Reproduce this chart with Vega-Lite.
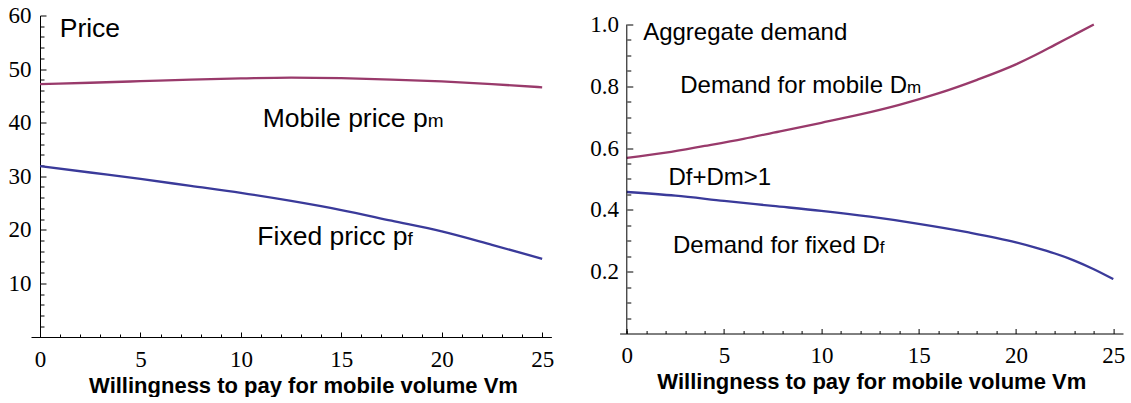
{
  "$schema": "https://vega.github.io/schema/vega-lite/v6.json",
  "background": "white",
  "padding": {"left": 8, "top": 4.5, "right": 0, "bottom": 0},
  "bounds": "flush",
  "spacing": 67.6,
  "datasets": {
    "price": [
      {"v": 0, "series": "Mobile price", "price": 47.2},
      {"v": 2.5, "series": "Mobile price", "price": 47.45},
      {"v": 5, "series": "Mobile price", "price": 47.75},
      {"v": 7.5, "series": "Mobile price", "price": 48.05},
      {"v": 10, "series": "Mobile price", "price": 48.25},
      {"v": 12.5, "series": "Mobile price", "price": 48.4},
      {"v": 15, "series": "Mobile price", "price": 48.3},
      {"v": 17.5, "series": "Mobile price", "price": 48.05},
      {"v": 20, "series": "Mobile price", "price": 47.7},
      {"v": 22.5, "series": "Mobile price", "price": 47.2},
      {"v": 25, "series": "Mobile price", "price": 46.6},
      {"v": 0, "series": "Fixed price", "price": 31.9},
      {"v": 2.5, "series": "Fixed price", "price": 30.7},
      {"v": 5, "series": "Fixed price", "price": 29.5},
      {"v": 7.5, "series": "Fixed price", "price": 28.2},
      {"v": 10, "series": "Fixed price", "price": 26.9},
      {"v": 12.5, "series": "Fixed price", "price": 25.4},
      {"v": 15, "series": "Fixed price", "price": 23.7},
      {"v": 17.5, "series": "Fixed price", "price": 21.7},
      {"v": 20, "series": "Fixed price", "price": 19.7},
      {"v": 22.5, "series": "Fixed price", "price": 17.2},
      {"v": 25, "series": "Fixed price", "price": 14.6}
    ],
    "demand": [
      {"v": 0, "series": "Dm", "demand": 0.568},
      {"v": 2, "series": "Dm", "demand": 0.585},
      {"v": 4, "series": "Dm", "demand": 0.607},
      {"v": 6, "series": "Dm", "demand": 0.630},
      {"v": 8, "series": "Dm", "demand": 0.656},
      {"v": 10, "series": "Dm", "demand": 0.682},
      {"v": 12, "series": "Dm", "demand": 0.709},
      {"v": 14, "series": "Dm", "demand": 0.740},
      {"v": 16, "series": "Dm", "demand": 0.777},
      {"v": 18, "series": "Dm", "demand": 0.821},
      {"v": 20, "series": "Dm", "demand": 0.871},
      {"v": 21, "series": "Dm", "demand": 0.901},
      {"v": 22, "series": "Dm", "demand": 0.934},
      {"v": 23, "series": "Dm", "demand": 0.967},
      {"v": 24, "series": "Dm", "demand": 1.0},
      {"v": 0, "series": "Df", "demand": 0.458},
      {"v": 2.5, "series": "Df", "demand": 0.446},
      {"v": 5, "series": "Df", "demand": 0.429},
      {"v": 7.5, "series": "Df", "demand": 0.413},
      {"v": 10, "series": "Df", "demand": 0.397},
      {"v": 12.5, "series": "Df", "demand": 0.378},
      {"v": 15, "series": "Df", "demand": 0.355},
      {"v": 17.5, "series": "Df", "demand": 0.328},
      {"v": 20, "series": "Df", "demand": 0.295},
      {"v": 21, "series": "Df", "demand": 0.278},
      {"v": 22, "series": "Df", "demand": 0.259},
      {"v": 23, "series": "Df", "demand": 0.236},
      {"v": 24, "series": "Df", "demand": 0.208},
      {"v": 25, "series": "Df", "demand": 0.176}
    ],
    "priceTitles": [
      {"x": 0.98, "y": 56.0, "label": "Price"}
    ],
    "priceMains": [
      {"x": 19.3, "y": 39.1, "label": "Mobile price p"},
      {"x": 18.3, "y": 17.26, "label": "Fixed pricc p"}
    ],
    "priceSubs": [
      {"x": 19.3, "y": 39.1, "label": "m"},
      {"x": 18.3, "y": 17.26, "label": "f"}
    ],
    "demandTitles": [
      {"x": 0.84, "y": 0.949, "label": "Aggregate demand"},
      {"x": 2.14, "y": 0.482, "label": "Df+Dm>1"}
    ],
    "demandMains": [
      {"x": 14.4, "y": 0.779, "label": "Demand for mobile D"},
      {"x": 13.0, "y": 0.261, "label": "Demand for fixed D"}
    ],
    "demandSubs": [
      {"x": 14.4, "y": 0.779, "label": "m"},
      {"x": 13.0, "y": 0.261, "label": "f"}
    ],
    "yaxisLine": [
      {"x": 0, "y": 0, "y2": 1}
    ]
  },
  "hconcat": [
    {
      "width": 520.4,
      "height": 321.5,
      "layer": [
        {
          "data": {"name": "price"},
          "mark": {"type": "line", "interpolate": "monotone", "strokeWidth": 2.3},
          "encoding": {
            "x": {
              "field": "v", "type": "quantitative",
              "scale": {"domain": [-0.45, 25.46], "nice": false, "zero": false},
              "axis": {
                "orient": "bottom",
                "values": [0, 5, 10, 15, 20, 25],
                "tickSize": -5,
                "labelPadding": 16,
                "title": "Willingness to pay for mobile volume Vm",
                "titleFontSize": 22,
                "titlePadding": 4,
                "titleX": 272
              }
            },
            "y": {
              "field": "price", "type": "quantitative",
              "scale": {"domain": [0, 60], "nice": false},
              "axis": {
                "orient": "left",
                "values": [10, 20, 30, 40, 50, 60],
                "tickSize": -6,
                "labelPadding": 15,
                "offset": -9,
                "title": null
              }
            },
            "color": {
              "field": "series", "type": "nominal",
              "scale": {"domain": ["Mobile price", "Fixed price"], "range": ["#993a6b", "#3a3a9a"]},
              "legend": null
            }
          }
        },
        {
          "data": {"name": "priceTitles"},
          "mark": {"type": "text", "align": "left", "baseline": "alphabetic", "font": "Liberation Sans", "fontSize": 26.5, "color": "black"},
          "encoding": {
            "x": {
              "field": "x", "type": "quantitative",
              "axis": {
                "orient": "bottom",
                "values": [0,1,2,3,4,6,7,8,9,11,12,13,14,16,17,18,19,21,22,23,24],
                "tickSize": -3,
                "labels": false,
                "domain": false,
                "title": null
              }
            },
            "y": {
              "field": "y", "type": "quantitative",
              "axis": {
                "orient": "left",
                "values": [2,4,6,8,12,14,16,18,22,24,26,28,32,34,36,38,42,44,46,48,52,54,56,58],
                "tickSize": -4,
                "labels": false,
                "domain": false,
                "offset": -9,
                "title": null
              }
            },
            "text": {"field": "label"}
          }
        },
        {
          "data": {"name": "priceMains"},
          "mark": {"type": "text", "align": "right", "baseline": "alphabetic", "font": "Liberation Sans", "fontSize": 26.5, "color": "black"},
          "encoding": {
            "x": {"field": "x", "type": "quantitative", "axis": null},
            "y": {"field": "y", "type": "quantitative", "axis": null},
            "text": {"field": "label"}
          }
        },
        {
          "data": {"name": "priceSubs"},
          "mark": {"type": "text", "align": "left", "baseline": "alphabetic", "font": "Liberation Sans", "fontSize": 19, "color": "black"},
          "encoding": {
            "x": {"field": "x", "type": "quantitative", "axis": null},
            "y": {"field": "y", "type": "quantitative", "axis": null},
            "text": {"field": "label"}
          }
        }
      ],
      "resolve": {"axis": {"x": "independent", "y": "independent"}}
    },
    {
      "width": 503.4,
      "height": 318,
      "layer": [
        {
          "data": {"name": "demand"},
          "mark": {"type": "line", "interpolate": "monotone", "strokeWidth": 2.3},
          "encoding": {
            "x": {
              "field": "v", "type": "quantitative",
              "scale": {"domain": [-0.37, 25.5], "nice": false, "zero": false},
              "axis": {
                "orient": "bottom",
                "values": [0, 5, 10, 15, 20, 25],
                "tickSize": -5,
                "labelPadding": 16,
                "title": "Willingness to pay for mobile volume Vm",
                "titleFontSize": 22,
                "titlePadding": 4
              }
            },
            "y": {
              "field": "demand", "type": "quantitative",
              "scale": {"domain": [0, 1.0291], "nice": false},
              "axis": {
                "orient": "left",
                "values": [0.2, 0.4, 0.6, 0.8, 1.0],
                "format": ".1f",
                "tickSize": -6,
                "labelPadding": 14.4,
                "offset": -7.2,
                "domain": false,
                "title": null
              }
            },
            "color": {
              "field": "series", "type": "nominal",
              "scale": {"domain": ["Dm", "Df"], "range": ["#993a6b", "#3a3a9a"]},
              "legend": null
            }
          }
        },
        {
          "data": {"name": "yaxisLine"},
          "mark": {"type": "rule", "color": "black", "strokeWidth": 1},
          "encoding": {
            "x": {
              "field": "x", "type": "quantitative",
              "axis": {
                "orient": "bottom",
                "values": [0,1,2,3,4,6,7,8,9,11,12,13,14,16,17,18,19,21,22,23,24],
                "tickSize": -3,
                "labels": false,
                "domain": false,
                "title": null
              }
            },
            "y": {
              "field": "y", "type": "quantitative",
              "axis": {
                "orient": "left",
                "values": [0.05,0.1,0.15,0.25,0.3,0.35,0.45,0.5,0.55,0.65,0.7,0.75,0.85,0.9,0.95],
                "tickSize": -4,
                "labels": false,
                "domain": false,
                "offset": -7.2,
                "title": null
              }
            },
            "y2": {"field": "y2"}
          }
        },
        {
          "data": {"name": "demandTitles"},
          "mark": {"type": "text", "align": "left", "baseline": "alphabetic", "font": "Liberation Sans", "fontSize": 24, "color": "black"},
          "encoding": {
            "x": {"field": "x", "type": "quantitative", "axis": null},
            "y": {"field": "y", "type": "quantitative", "axis": null},
            "text": {"field": "label"}
          }
        },
        {
          "data": {"name": "demandMains"},
          "mark": {"type": "text", "align": "right", "baseline": "alphabetic", "font": "Liberation Sans", "fontSize": 24, "color": "black"},
          "encoding": {
            "x": {"field": "x", "type": "quantitative", "axis": null},
            "y": {"field": "y", "type": "quantitative", "axis": null},
            "text": {"field": "label"}
          }
        },
        {
          "data": {"name": "demandSubs"},
          "mark": {"type": "text", "align": "left", "baseline": "alphabetic", "font": "Liberation Sans", "fontSize": 17, "color": "black"},
          "encoding": {
            "x": {"field": "x", "type": "quantitative", "axis": null},
            "y": {"field": "y", "type": "quantitative", "axis": null},
            "text": {"field": "label"}
          }
        }
      ],
      "resolve": {"axis": {"x": "independent", "y": "independent"}}
    }
  ],
  "resolve": {"scale": {"color": "independent"}},
  "config": {
    "view": {"stroke": null},
    "axis": {
      "grid": false,
      "domainColor": "black",
      "domainWidth": 1,
      "tickColor": "black",
      "tickWidth": 1,
      "labelColor": "black",
      "labelFont": "Liberation Serif",
      "labelFontSize": 23,
      "labelFlush": false,
      "labelOverlap": false,
      "titleColor": "black",
      "titleFont": "Liberation Sans",
      "titleFontWeight": "bold"
    }
  }
}
